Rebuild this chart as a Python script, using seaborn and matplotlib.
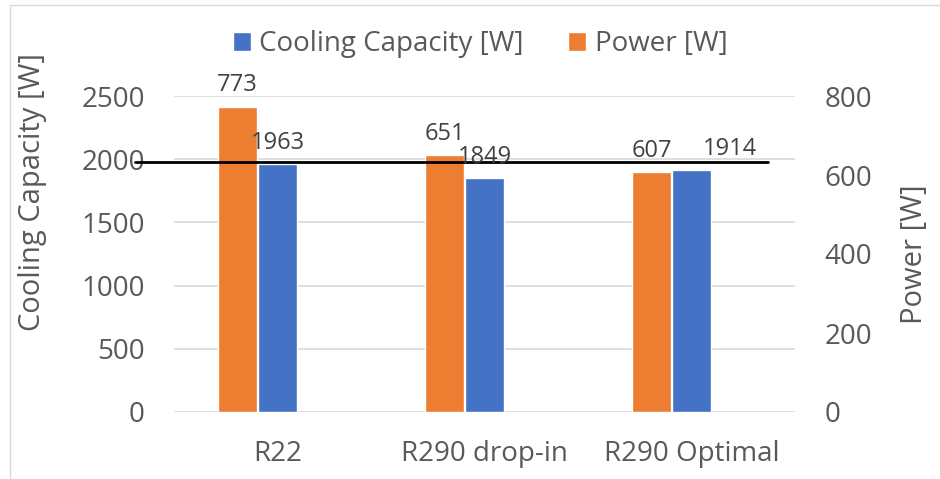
import matplotlib
matplotlib.use("Agg")
import matplotlib.pyplot as plt
import matplotlib.transforms as mtransforms
from matplotlib.patches import Patch, Rectangle
import seaborn as sns
import pandas as pd
import numpy as np

categories = ["R22", "R290 drop-in", "R290 Optimal"]
cooling_capacity = [1963, 1849, 1914]
power = [773, 651, 607]
cool_name = "Cooling Capacity [W]"
power_name = "Power [W]"
left_ticks = [0, 500, 1000, 1500, 2000, 2500]
right_ticks = [0, 200, 400, 600, 800]
ref_line_value = 1978  # hand-drawn black line, on the left axis

BLUE = "#4472C4"
ORANGE = "#ED7D31"
GRAY = "#595959"
GRID = "#D9D9D9"
BAR_W = 0.193  # width of one bar, in category units
cool_label_dx = [0, 0, 28]  # label nudges, in points

sns.set_theme(style="white")
plt.rcParams["font.family"] = ["Open Sans", "DejaVu Sans"]

idx = np.arange(len(categories))
df_cool = pd.DataFrame({"pos": idx + 0.0, "val": cooling_capacity})
df_pow = pd.DataFrame({"pos": idx - BAR_W, "val": power})

fig = plt.figure(figsize=(9.4, 4.79), dpi=100)
ax = fig.add_axes([174 / 940, 1 - 412 / 479, 621 / 940, 316 / 479])
ax2 = ax.twinx()

sns.barplot(data=df_cool, x="pos", y="val", native_scale=True, width=BAR_W * 0.97,
            color=BLUE, saturation=1, ax=ax, errorbar=None)
sns.barplot(data=df_pow, x="pos", y="val", native_scale=True, width=BAR_W * 0.97,
            color=ORANGE, saturation=1, ax=ax2, errorbar=None)

ax.set_xlim(-0.5, 2.5)
ax.set_xticks(idx)
ax.set_xticklabels(categories)
ax.set_ylim(0, 2500)
ax2.set_ylim(0, 800)
ax.set_yticks(left_ticks)
ax2.set_yticks(right_ticks)

ax.set_axisbelow(True)
ax.yaxis.grid(True, color=GRID, linewidth=1.2)
ax.xaxis.grid(False)
ax2.grid(False)
for a in (ax, ax2):
    for s in a.spines.values():
        s.set_visible(False)

ax.tick_params(axis="y", length=0, pad=21, labelsize=20, labelcolor=GRAY)
ax2.tick_params(axis="y", length=0, pad=21, labelsize=20, labelcolor=GRAY)
ax.tick_params(axis="x", length=0, pad=20, labelsize=20, labelcolor=GRAY)
ax.set_xlabel("")
ax2.set_xlabel("")
ax.set_ylabel(cool_name, fontsize=21, color=GRAY)
ax2.set_ylabel(power_name, fontsize=21, color=GRAY, rotation=90)
ax.yaxis.set_label_coords(-0.205, 0.695)
ax2.yaxis.set_label_coords(1.169, 0.5)

# data labels (all drawn on the top axes so the bars never hide them)
cool_bars = [b for b in ax.patches if b.get_height() > 0]
pow_bars = [b for b in ax2.patches if b.get_height() > 0]
for b, dx in zip(cool_bars, cool_label_dx):
    ax2.annotate(f"{int(round(b.get_height()))}",
                 (b.get_x() + b.get_width() / 2, b.get_height()), xycoords=ax.transData,
                 xytext=(dx, 11), textcoords="offset points",
                 ha="center", va="baseline", fontsize=17, color="#404040", zorder=12)
for b in pow_bars:
    ax2.annotate(f"{int(round(b.get_height()))}",
                 (b.get_x() + b.get_width() / 2, b.get_height()),
                 xytext=(0, 11), textcoords="offset points",
                 ha="center", va="baseline", fontsize=17, color="#404040", zorder=12)

# hand-drawn reference line
trans = mtransforms.blended_transform_factory(ax2.transAxes, ax.transData)
ax2.plot([-0.063, 0.957], [ref_line_value, ref_line_value], color="black",
         linewidth=2, transform=trans, clip_on=False, zorder=10)

handles = [Patch(facecolor=BLUE, label=cool_name), Patch(facecolor=ORANGE, label=power_name)]
fig.legend(handles=handles, loc="center", bbox_to_anchor=(0.511, 0.908), ncol=2,
           frameon=False, fontsize=20, handlelength=0.65, handleheight=0.65,
           handletextpad=0.32, columnspacing=1.6, borderpad=0, labelcolor=GRAY)

fig.patches.append(Rectangle((10 / 940, -0.1), 2, 1 - 5 / 479 + 0.1,
                             transform=fig.transFigure, fill=False,
                             edgecolor=GRID, linewidth=1))

fig.savefig("out.png", dpi=100)
